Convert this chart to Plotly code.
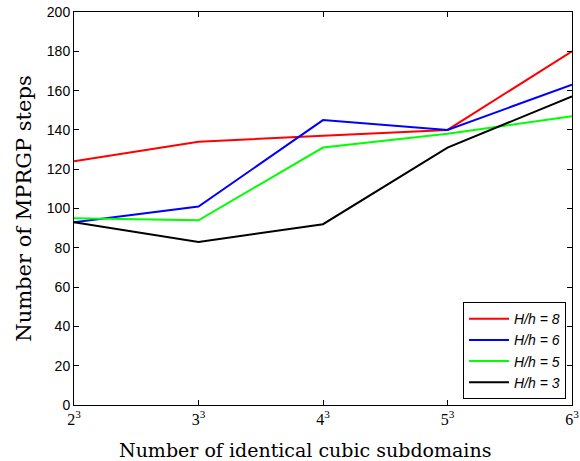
import plotly.graph_objects as go

categories = ["2<sup>3</sup>", "3<sup>3</sup>", "4<sup>3</sup>", "5<sup>3</sup>", "6<sup>3</sup>"]
h8 = [124, 134, 137, 140, 180]
h6 = [93, 101, 145, 140, 163]
h5 = [95, 94, 131, 138, 147]
h3 = [93, 83, 92, 131, 157]
series_names = ["H/h = 8", "H/h = 6", "H/h = 5", "H/h = 3"]
series_values = [h8, h6, h5, h3]
colors = ["#ff0000", "#0000ff", "#00ff00", "#000000"]
y_ticks = [0, 20, 40, 60, 80, 100, 120, 140, 160, 180, 200]
x_title = "Number of identical cubic subdomains"
y_title = "Number of MPRGP steps"

xpos = list(range(len(categories)))
fig = go.Figure()
for name, vals, c in zip(series_names, series_values, colors):
    fig.add_trace(go.Scatter(x=xpos, y=vals, mode="lines", name="<i>" + name + "</i>",
                             line=dict(color=c, width=2)))

serif = "Liberation Serif, Times New Roman, serif"
wide_serif = "DejaVu Serif, serif"
sans = "Liberation Sans, Arial, sans-serif"
fig.update_layout(
    width=580, height=461,
    margin=dict(l=74, r=8, t=12, b=56),
    paper_bgcolor="white", plot_bgcolor="white",
    showlegend=True,
    legend=dict(x=0.988, y=0.015, xanchor="right", yanchor="bottom",
                bordercolor="black", borderwidth=1, bgcolor="white",
                font=dict(family=sans, size=14, color="black"),
                tracegroupgap=0, itemwidth=40),
    xaxis=dict(range=[0, 4], tickmode="array", tickvals=xpos, ticktext=categories,
               automargin=False,
               showgrid=False, zeroline=False, showline=True, linecolor="black", linewidth=1,
               mirror="ticks", ticks="inside", ticklen=5, tickcolor="black",
               tickfont=dict(family=serif, size=16, color="black")),
    yaxis=dict(range=[0, 200], tickmode="array", tickvals=y_ticks,
               automargin=False,
               showgrid=False, zeroline=False, showline=True, linecolor="black", linewidth=1,
               mirror="ticks", ticks="inside", ticklen=5, tickcolor="black",
               tickfont=dict(family=sans, size=14, color="black"),
               title=dict(text=y_title,
                          font=dict(family=wide_serif, size=21, color="black"), standoff=9)),
    annotations=[dict(text=x_title, xref="paper", yref="paper", x=0.464, y=0,
                      xanchor="center", yanchor="middle", yshift=-45, showarrow=False,
                      font=dict(family=wide_serif, size=19, color="black"))],
)
fig.write_html("out.html", config={"displayModeBar": False},
               post_script="document.body.style.margin='0';")
